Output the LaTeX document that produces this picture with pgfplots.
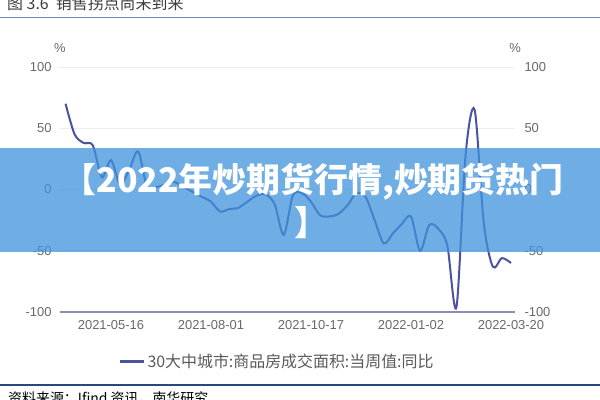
\documentclass[border=0pt]{standalone}
\usepackage{pgfplots}
\pgfplotsset{compat=1.18}
\usepackage{pgfplotstable}
\usepackage{fontspec}
\setmainfont{Liberation Sans}
\newfontfamily\cjk{Noto Sans CJK SC}
\definecolor{linec}{RGB}{75,82,160}
\definecolor{gridc}{RGB}{234,237,246}
\definecolor{axisc}{RGB}{140,140,180}
\definecolor{tickc}{RGB}{105,105,105}
\definecolor{legc}{RGB}{90,90,90}
\definecolor{bannerc}{RGB}{63,147,219}
\definecolor{rulec}{RGB}{110,140,185}
\definecolor{srcrule}{RGB}{40,70,130}
\definecolor{titlec}{RGB}{60,60,60}

\pgfplotstableread{
w v
-5 70
-4 45
-3 38
-2 36
-1 10
0 24
1 4
2 16
3 31
4 1
5 2
6 4
7 6
8 2
9 -2
10 -6
11 -10
12 -18
13 -16
14 -15
15 -10
16 -5
17 -4
18 -12
19 -37
20 -5
21 -3
22 -10
23 -21
24 -22
25 -20
26 -13
27 -3
28 -6
29 -25
30 -44
31 -36
32 -28
33 -22
34 -50
35 -29
36 -32
37 -46
38 -96
39 28
40 65
41 -27
42 -63
43 -56
44 -60
}\datatable

\begin{document}
\begin{tikzpicture}
\path[use as bounding box, fill=white] (0,0) rectangle (600bp,-400bp);
\node[anchor=west, text=titlec, font=\cjk\fontsize{16}{18}\selectfont, inner sep=0pt] at (7bp,-3bp) {图 3.6\ \ 销售拐点尚未到来};
\draw[rulec, line width=1.5bp] (0,-17.5bp) -- (600bp,-17.5bp);

\begin{axis}[at={(60bp,-312bp)}, anchor=south west, scale only axis,
  width=455bp, height=245bp,
  xmin=-5.61, xmax=44.44, ymin=-100, ymax=100,
  axis line style={draw=none}, major tick length=0,
  xtick={0,11,22,33,44},
  xticklabels={2021-05-16,2021-08-01,2021-10-17,2022-01-02,2022-03-20},
  ytick={-100,-50,0,50,100},
  ymajorgrids, grid style={gridc, line width=1bp},
  ticklabel style={font=\fontsize{13}{15}\selectfont, text=tickc},
  /pgf/number format/assume math mode=true,
  yticklabel style={xshift=-5bp},
  xticklabel style={yshift=-5bp},
  clip=false,
  legend style={at={(axis description cs:0.477,-0.2)}, anchor=center, draw=none, fill=none,
    font=\cjk\fontsize{16}{18}\selectfont, nodes={text=legc}},
  legend image code/.code={\draw[#1, line width=3bp] (-3bp,0bp) -- (21bp,0bp);},
]
\draw[axisc, line width=1.8bp] (rel axis cs:0,0) -- (rel axis cs:1,0);
\addplot[linec, line width=2bp, smooth, tension=0.5] table[x=w,y=v]{\datatable};
\addlegendentry{30大中城市:商品房成交面积:当周值:同比}
\node[text=tickc, font=\fontsize{13}{15}\selectfont] at (rel axis cs:0,1) [yshift=19bp] {\%};
\node[text=tickc, font=\fontsize{13}{15}\selectfont] at (rel axis cs:1,1) [yshift=19bp] {\%};
\end{axis}

\begin{axis}[at={(60bp,-312bp)}, anchor=south west, scale only axis,
  width=455bp, height=245bp,
  xmin=-5.61, xmax=44.44, ymin=-100, ymax=100,
  axis line style={draw=none}, major tick length=0,
  xtick=\empty,
  ytick={-100,-50,0,50,100},
  yticklabel pos=right,
  ticklabel style={font=\fontsize{13}{15}\selectfont, text=tickc},
  /pgf/number format/assume math mode=true,
  yticklabel style={xshift=6bp},
]
\end{axis}

\fill[bannerc, fill opacity=0.75] (0,-148bp) rectangle (600bp,-252bp);
\node[text=white, font=\cjk\bfseries\fontsize{34}{36}\selectfont, inner sep=0pt] at (313bp,-182bp) {【2022年炒期货行情,炒期货热门};
\node[text=white, font=\cjk\bfseries\fontsize{34}{36}\selectfont, inner sep=0pt] at (311bp,-223bp) {】};

\draw[srcrule, line width=1.2bp] (0,-385bp) -- (600bp,-385bp);
\node[anchor=west, text=black, font=\cjk\fontsize{14}{16}\selectfont, inner sep=0pt] at (8bp,-398bp) {资料来源：Ifind 资讯，南华研究};
\end{tikzpicture}
\end{document}
